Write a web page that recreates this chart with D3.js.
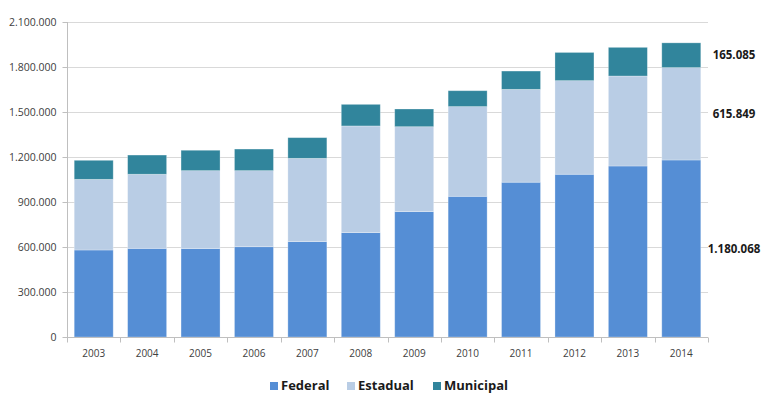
<!DOCTYPE html>
<html>
<head>
<meta charset="utf-8">
<script src="https://cdn.jsdelivr.net/npm/d3@7/dist/d3.min.js"></script>
<style>
  html, body { margin: 0; padding: 0; background: #fff; }
  svg { display: block; }
  text { font-family: "Open Sans", "Noto Sans", sans-serif; }
</style>
</head>
<body>
<svg id="chart" width="762" height="394"></svg>
<script>
// Matrículas por esfera administrativa, 2003–2014
const years = ["2003","2004","2005","2006","2007","2008","2009","2010","2011","2012","2013","2014"];
const federal   = [580000, 591000, 590000, 602000, 636000, 696000, 836000, 938000, 1032000, 1085000, 1140000, 1180068];
const estadual  = [471000, 494000, 519000, 507000, 555000, 711000, 566000, 598000, 619000, 624000, 600000, 615849];
const municipal = [127000, 128000, 136000, 144000, 138000, 144000, 118000, 106000, 122000, 188000, 191000, 165085];
const yTicks = [0, 300000, 600000, 900000, 1200000, 1500000, 1800000, 2100000];
const seriesNames = ["Federal", "Estadual", "Municipal"];
const seriesColors = ["#558ed5", "#b9cde5", "#31859c"];
const lastLabels = ["1.180.068", "615.849", "165.085"];

const svg = d3.select("#chart");
const margin = { left: 67, right: 54, top: 22, bottom: 57 };
const W = 762, H = 394;

const x = d3.scaleBand().domain(years).range([margin.left, W - margin.right]).paddingInner(0.27).paddingOuter(0.135);
const y = d3.scaleLinear().domain([0, 2100000]).range([H - margin.bottom, margin.top]);

const fmt = v => d3.format(",")(v).replace(/,/g, ".");

// horizontal gridlines
svg.append("g").selectAll("line").data(yTicks.slice(1)).join("line")
  .attr("x1", margin.left).attr("x2", W - margin.right)
  .attr("y1", d => Math.round(y(d)) + 0.5).attr("y2", d => Math.round(y(d)) + 0.5)
  .attr("stroke", "#d9d9d9").attr("stroke-width", 1);

// stacked bars
const rows = years.map((yr, i) => ({ year: yr, Federal: federal[i], Estadual: estadual[i], Municipal: municipal[i] }));
const stack = d3.stack().keys(seriesNames)(rows);

svg.append("g").selectAll("g").data(stack).join("g")
  .attr("fill", (d, i) => seriesColors[i])
  .selectAll("rect").data(d => d).join("rect")
  .attr("x", d => x(d.data.year))
  .attr("width", x.bandwidth())
  .attr("y", d => y(d[1]))
  .attr("height", d => y(d[0]) - y(d[1]))
  .attr("stroke", "rgba(255,255,255,0.35)")
  .attr("stroke-width", 0.8);

// y axis
const yAxis = d3.axisLeft(y).tickValues(yTicks).tickSize(5).tickPadding(6).tickFormat(fmt);
const gy = svg.append("g").attr("transform", `translate(${margin.left + 0.5},0)`).call(yAxis);
gy.select(".domain").attr("stroke", "#bfbfbf").attr("d", `M0,${y(2100000)}V${y(0)}`);
gy.selectAll(".tick line").attr("stroke", "#bfbfbf");
gy.selectAll(".tick text").attr("fill", "#404040").style("font-size", "10.5px")
  .style("font-family", "'Open Sans', sans-serif");

// x axis with ticks at the band boundaries
const gx = svg.append("g").attr("transform", `translate(0,${Math.round(y(0)) + 0.5})`);
gx.append("line").attr("x1", margin.left).attr("x2", W - margin.right).attr("stroke", "#bfbfbf");
const bounds = d3.range(years.length + 1).map(i => margin.left + i * (W - margin.left - margin.right) / years.length);
gx.selectAll("line.tk").data(bounds).join("line").attr("class", "tk")
  .attr("x1", d => Math.round(d) + 0.5).attr("x2", d => Math.round(d) + 0.5)
  .attr("y1", 0).attr("y2", 5).attr("stroke", "#bfbfbf");
gx.selectAll("text").data(years).join("text")
  .attr("x", d => x(d) + x.bandwidth() / 2).attr("y", 19)
  .attr("text-anchor", "middle").attr("fill", "#404040")
  .style("font-size", "10px").text(d => d);

// value labels for the last year, centred on each segment
const last = stack.map(s => s[s.length - 1]);
svg.append("g").selectAll("text").data(last).join("text")
  .attr("x", 734)
  .attr("y", d => (y(d[0]) + y(d[1])) / 2)
  .attr("dy", "0.35em")
  .attr("text-anchor", "middle")
  .attr("fill", "#1a1a1a")
  .style("font-size", "11.5px").style("font-weight", "bold")
  .text((d, i) => lastLabels[i]);

// legend
const legendItems = [
  { name: "Federal", color: seriesColors[0], x: 270 },
  { name: "Estadual", color: seriesColors[1], x: 347 },
  { name: "Municipal", color: seriesColors[2], x: 433 }
];
const lg = svg.append("g");
legendItems.forEach(it => {
  lg.append("rect").attr("x", it.x).attr("y", 382).attr("width", 8).attr("height", 8).attr("fill", it.color);
  lg.append("text").attr("x", it.x + 11).attr("y", 389.5)
    .attr("fill", "#1a1a1a").style("font-size", "13px").style("font-weight", "bold").text(it.name);
});
</script>
</body>
</html>
